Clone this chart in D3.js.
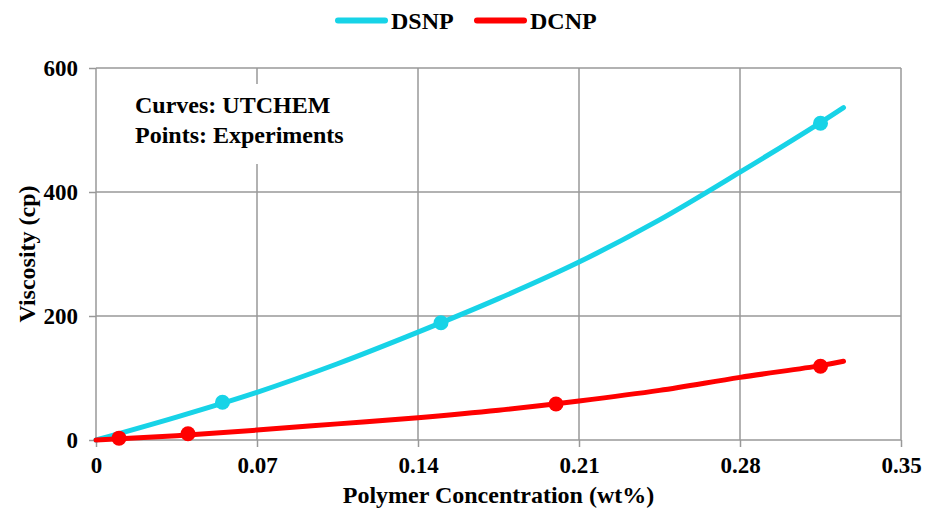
<!DOCTYPE html>
<html>
<head>
<meta charset="utf-8">
<script src="https://cdn.jsdelivr.net/npm/d3@7"></script>
<style>
  html, body { margin: 0; padding: 0; background: #fff; }
  svg { display: block; }
</style>
</head>
<body>
<svg id="chart" width="931" height="513"></svg>
<script>
// UTCHEM model curves (concentration in wt%, viscosity in cp)
const curveConc = [0, 0.035, 0.07, 0.105, 0.14, 0.175, 0.21, 0.245, 0.28, 0.315, 0.325];
const dsnpCurve = [0, 37, 77, 123, 174, 228, 287, 355, 432, 512, 536];
const dcnpCurve = [0, 7, 16, 26, 36, 48, 63, 80, 101, 120, 127];

// Measured viscosities
const dsnpExpConc = [0.055, 0.15, 0.315];
const dsnpExpVisc = [61, 189, 511];
const dcnpExpConc = [0.01, 0.04, 0.2, 0.315];
const dcnpExpVisc = [3, 10, 58, 119];

const xTicks = [0, 0.07, 0.14, 0.21, 0.28, 0.35];
const yTicks = [0, 200, 400, 600];

const seriesNames = ["DSNP", "DCNP"];
const colors = { DSNP: "#17d3e7", DCNP: "#ff0000" };

const FONT = "Liberation Serif";

const svg = d3.select("#chart");
const margin = { left: 96, right: 30, top: 68, bottom: 73 };
const W = 931, H = 513;

const x = d3.scaleLinear().domain([0, 0.35]).range([margin.left, W - margin.right]);
const y = d3.scaleLinear().domain([0, 600]).range([H - margin.bottom, margin.top]);

const gridColor = "#989898";

// Bold serif text helper
function label(parent, tx, ty, str, size, anchor) {
  return parent.append("text")
    .attr("x", tx).attr("y", ty)
    .attr("font-family", FONT).attr("font-weight", "bold")
    .attr("font-size", size).attr("text-anchor", anchor || "start")
    .attr("fill", "#000").text(str);
}

// Gridlines
svg.append("g").selectAll("line").data(xTicks.slice(1)).join("line")
  .attr("x1", d => x(d)).attr("x2", d => x(d))
  .attr("y1", y(600)).attr("y2", y(0))
  .attr("stroke", gridColor).attr("stroke-width", 1.5);
svg.append("g").selectAll("line").data(yTicks.slice(1)).join("line")
  .attr("x1", x(0)).attr("x2", x(0.35))
  .attr("y1", d => y(d)).attr("y2", d => y(d))
  .attr("stroke", gridColor).attr("stroke-width", 1.5);

// Axes
const xAxis = d3.axisBottom(x).tickValues(xTicks).tickSize(7).tickPadding(10)
  .tickFormat(d => d === 0 ? "0" : d3.format(".2f")(d));
const yAxis = d3.axisLeft(y).tickValues(yTicks).tickSize(7).tickPadding(11)
  .tickFormat(d3.format("d"));

const gx = svg.append("g").attr("transform", `translate(0,${y(0)})`).call(xAxis);
const gy = svg.append("g").attr("transform", `translate(${x(0)},0)`).call(yAxis);
[gx, gy].forEach(g => {
  g.attr("font-family", FONT).attr("font-size", 23).attr("font-weight", "bold");
  g.select(".domain").attr("stroke", gridColor).attr("stroke-width", 1.5);
  g.selectAll(".tick line").attr("stroke", gridColor).attr("stroke-width", 1.5);
  g.selectAll(".tick text").attr("fill", "#000");
});
gx.select(".domain").attr("d", `M${x(0)},0H${x(0.35)}`);
gy.select(".domain").attr("d", `M0,${y(600)}V${y(0)}`);

// Annotation box
svg.append("rect").attr("x", 126).attr("y", 84).attr("width", 232).attr("height", 80).attr("fill", "#fff");
label(svg, 135, 113, "Curves: UTCHEM", 24);
label(svg, 135, 143, "Points: Experiments", 24);

// Curves
const line = d3.line().x(d => x(d[0])).y(d => y(d[1])).curve(d3.curveCatmullRom.alpha(0.5));
const curveData = {
  DSNP: curveConc.map((c, i) => [c, dsnpCurve[i]]),
  DCNP: curveConc.map((c, i) => [c, dcnpCurve[i]])
};
const expData = {
  DSNP: dsnpExpConc.map((c, i) => [c, dsnpExpVisc[i]]),
  DCNP: dcnpExpConc.map((c, i) => [c, dcnpExpVisc[i]])
};

seriesNames.forEach(name => {
  svg.append("path").datum(curveData[name])
    .attr("d", line).attr("fill", "none")
    .attr("stroke", colors[name]).attr("stroke-width", 5).attr("stroke-linecap", "round");
});
seriesNames.forEach(name => {
  svg.append("g").selectAll("circle").data(expData[name]).join("circle")
    .attr("cx", d => x(d[0])).attr("cy", d => y(d[1])).attr("r", 7.5)
    .attr("fill", colors[name]);
});

// Legend
const legendX = [338, 477];
seriesNames.forEach((name, i) => {
  const lg = svg.append("g").attr("transform", `translate(${legendX[i]},20.5)`);
  lg.append("line").attr("x1", 0).attr("x2", 47).attr("y1", 0).attr("y2", 0)
    .attr("stroke", colors[name]).attr("stroke-width", 6).attr("stroke-linecap", "round");
  label(lg, 53, 8, name, 24);
});

// Axis titles
label(svg, (x(0) + x(0.35)) / 2, 503, "Polymer Concentration (wt%)", 24, "middle");
svg.append("text").attr("transform", `translate(35,${(y(0) + y(600)) / 2}) rotate(-90)`)
  .attr("font-family", FONT).attr("font-weight", "bold").attr("font-size", 24)
  .attr("text-anchor", "middle").text("Viscosity (cp)");
</script>
</body>
</html>
